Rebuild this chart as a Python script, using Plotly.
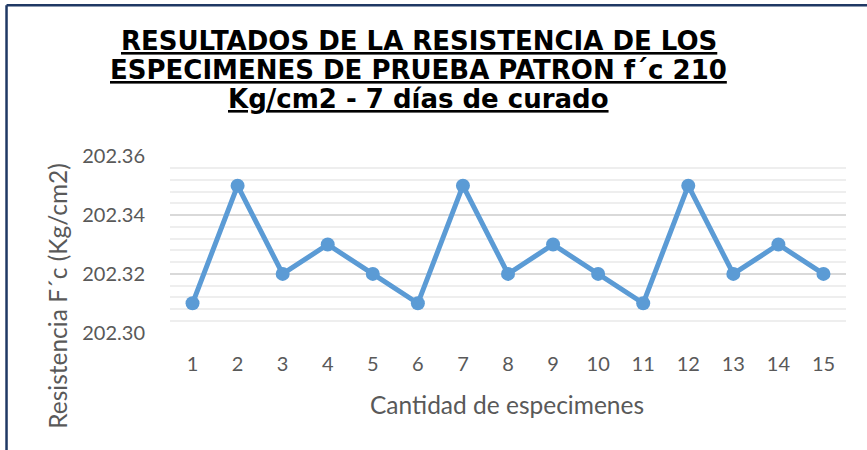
import plotly.graph_objects as go

specimens = [str(i) for i in range(1, 16)]
resistance = [202.31, 202.35, 202.32, 202.33, 202.32, 202.31, 202.35, 202.32,
              202.33, 202.32, 202.31, 202.35, 202.32, 202.33, 202.32]
y_ticks = [202.30, 202.32, 202.34, 202.36]
y_ticklabels = ["202.30", "202.32", "202.34", "202.36"]

title_lines = ["RESULTADOS DE LA RESISTENCIA DE LOS",
               "ESPECIMENES DE PRUEBA PATRON f´c 210",
               "Kg/cm2 - 7 días de curado"]
x_title = "Cantidad de especimenes"
y_title = "Resistencia F´c (Kg/cm2)"

W, H = 867, 450
L, R, T, B = 169.5, 21.4, 155.7, 117.3
pw, ph = W - L - R, H - T - B


def px(xp):
    return (xp - L) / pw


def py(yp):
    return (H - B - yp) / ph


fig = go.Figure()
fig.add_trace(go.Scatter(
    x=specimens, y=resistance, mode="lines+markers",
    line=dict(color="#5B9BD5", width=5),
    marker=dict(color="#5B9BD5", size=14),
    showlegend=False, hoverinfo="x+y"))

gray = "#595959"
body_font = "Lato, Calibri, sans-serif"
tick_font = dict(family=body_font, size=20, color=gray)

fig.update_layout(
    width=W, height=H,
    margin=dict(l=L, r=R, t=T, b=B, autoexpand=False),
    paper_bgcolor="white", plot_bgcolor="white",
    xaxis=dict(type="category", range=[-0.5, 14.5], showgrid=False, zeroline=False,
               showline=False, ticks="outside", ticklen=13, tickcolor="rgba(0,0,0,0)",
               tickfont=tick_font, fixedrange=True),
    yaxis=dict(range=[202.2999, 202.3601], tickvals=y_ticks, ticktext=y_ticklabels,
               showgrid=True, gridcolor="#D9D9D9", gridwidth=1.5, zeroline=False,
               showline=False, ticks="outside", ticklen=20, tickcolor="rgba(0,0,0,0)",
               tickfont=tick_font,
               minor=dict(tick0=202.30, dtick=0.004, showgrid=True,
                          gridcolor="#EEEEEE", gridwidth=1.5),
               fixedrange=True),
    font=dict(family=body_font, color=gray),
)

# title, one annotation per line
title_font = dict(family="DejaVu Sans, Liberation Sans, Arial, sans-serif", size=26, color="black")
for line, yc in zip(title_lines, [41.0, 69.5, 98.5]):
    fig.add_annotation(text="<b><u>" + line + "</u></b>", xref="paper", yref="paper",
                       x=px(418.5), y=py(yc), xanchor="center", yanchor="middle",
                       showarrow=False, font=title_font)

# axis titles
fig.add_annotation(text=x_title, xref="paper", yref="paper",
                   x=px(507), y=py(404), xanchor="center", yanchor="middle",
                   showarrow=False, font=dict(family=body_font, size=24.5, color=gray))
fig.add_annotation(text=y_title, xref="paper", yref="paper",
                   x=px(57), y=py(296), xanchor="center", yanchor="middle",
                   showarrow=False, textangle=-90,
                   font=dict(family=body_font, size=24.5, color=gray))

# frame lines (top and left) of the original picture
border = "#1F3864"
fig.add_shape(type="line", xref="paper", yref="paper", x0=px(6), x1=px(W + 5),
              y0=py(5), y1=py(5), line=dict(color=border, width=2.5))
fig.add_shape(type="line", xref="paper", yref="paper", x0=px(6), x1=px(6),
              y0=py(5), y1=py(H + 5), line=dict(color=border, width=2.5))

fig.write_html("out.html", config={"displayModeBar": False},
               post_script="document.body.style.margin='0px';")
